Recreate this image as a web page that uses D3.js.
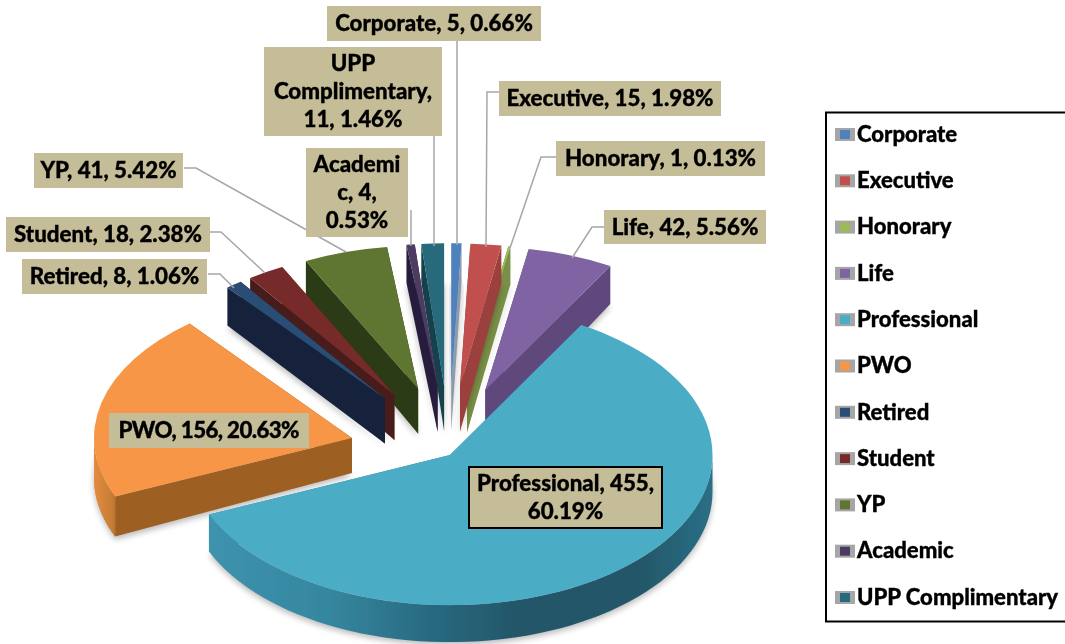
<!DOCTYPE html>
<html><head><meta charset="utf-8">
<script src="https://cdn.jsdelivr.net/npm/d3@7/dist/d3.min.js"></script>
<style>html,body{margin:0;padding:0;background:#fff;overflow:hidden}svg{display:block}text{font-family:Lato,sans-serif;font-weight:900;fill:#000;stroke:#000;stroke-width:.35px}</style>
</head><body><svg id="c" width="1065" height="644"></svg>
<script>
const categories=["Corporate","Executive","Honorary","Life","Professional","PWO","Retired","Student","YP","Academic","UPP Complimentary"];
const counts=[5,15,1,42,455,156,8,18,41,4,11];
const percents=["0.66%","1.98%","0.13%","5.56%","60.19%","20.63%","1.06%","2.38%","5.42%","0.53%","1.46%"];
const topColors=["#4f81bd","#c0504d","#9bbb59","#8064a2","#4bacc6","#f79646","#2c4d75","#772c2a","#5f7530","#4d3b62","#276a7c"];
const wallColors=["#8f9aa8","#9c3f3d","#7a8f47","#5f4a7c","#2f7f97","#9e5f22","#14243a","#4a1a1a","#2c3b17","#261c3c","#123f4c"];
const drawOrder=[3,2,1,0,10,9,8,7,6,5,4];

// label boxes: [left, top, right, bottom], text lines, leader polyline
const labelBoxes={
 Corporate:{box:[327,6,541,41],lines:["Corporate, 5, 0.66%"],lead:[[457,41],[457,245]]},
 "UPP Complimentary":{box:[264,47,442,136],lines:["UPP","Complimentary,","11, 1.46%"],lead:[[434,136],[434,246]]},
 Executive:{box:[499,81,721,116],lines:["Executive, 15, 1.98%"],lead:[[499,92],[487,92],[486,247]]},
 Honorary:{box:[556,141,765,176],lines:["Honorary, 1, 0.13%"],lead:[[556,157],[541,157],[510,248]]},
 Life:{box:[604,210,766,244],lines:["Life, 42, 5.56%"],lead:[[604,227],[592,227],[572,258]]},
 YP:{box:[34,153,183,188],lines:["YP, 41, 5.42%"],lead:[[184,168],[196,168],[346,252]]},
 Academic:{box:[306,148,408,237],lines:["Academi","c, 4,","0.53%"],lead:[[411,210],[411,246]]},
 Student:{box:[6,217,210,252],lines:["Student, 18, 2.38%"],lead:[[210,232],[221,232],[265,273]]},
 Retired:{box:[22,259,207,294],lines:["Retired, 8, 1.06%"],lead:[[208,274],[220,274],[234,288]]},
 PWO:{box:[109,413,309,448],lines:["PWO, 156, 20.63%"],lead:[],fit:181},
 Professional:{box:[469,467,662,528],lines:["Professional, 455,","60.19%"],lead:[],outline:true,fit:null}
};

const svg=d3.select("#c");
const defs=svg.append("defs");
function blur(id,s){const f=defs.append("filter").attr("id",id).attr("x","-20%").attr("y","-20%").attr("width","140%").attr("height","140%");f.append("feGaussianBlur").attr("stdDeviation",s);}
blur("soft",0.7);blur("shadow",3);blur("tblur",0.4);
function gradient(id,stops){
  const g=defs.append("linearGradient").attr("id",id).attr("gradientUnits","userSpaceOnUse").attr("x1",stops[0][0]).attr("x2",stops[stops.length-1][0]).attr("y1",0).attr("y2",0);
  const span=stops[stops.length-1][0]-stops[0][0];
  stops.forEach(s=>g.append("stop").attr("offset",(s[0]-stops[0][0])/span).attr("stop-color",s[1]));
}
gradient("profArc",[[205,"#3f93ae"],[330,"#35869f"],[430,"#286a80"],[520,"#235668"],[640,"#235768"],[712,"#2a6f86"]]);
gradient("pwoArc",[[92,"#e58e3e"],[112,"#c77d35"],[120,"#9e5f22"]]);
const arcFills={Professional:"url(#profArc)",PWO:"url(#pwoArc)"};

const cx=449,cy=447,rx=250,ry=143,depth=38,apexDepth=45,explode=0.425;
const arcs=d3.pie().sort(null).value(d=>d)(counts);
const mid=a=>(a.startAngle+a.endAngle)/2;
function geom(i){
  const a=arcs[i];
  if(categories[i]==="Professional")return {x:450,y:455,rx:rx*1.05,ry:ry*1.05,d:37,da:37};
  if(categories[i]==="PWO")return {x:352,y:438,rx:rx*1.032,ry:ry*1.032,d:40,da:35};
  return {x:cx+explode*rx*Math.sin(mid(a)),y:cy-explode*ry*Math.cos(mid(a)),rx,ry,d:depth,da:apexDepth};
}
const pt=(g,ang,r=1,z=0)=>[g.x+g.rx*r*Math.sin(ang),g.y-g.ry*r*Math.cos(ang)+z];
const line=d3.line();
const pieGroup=svg.append("g").attr("filter","url(#soft)");

drawOrder.forEach(i=>{
  const a=arcs[i],g=geom(i),c=pieGroup.append("g");
  const sh=[[g.x,g.y+g.da]].concat(d3.range(0,41).map(k=>pt(g,a.startAngle+(a.endAngle-a.startAngle)*k/40,1,g.d)));
  c.append("path").attr("d",line(sh)+"Z").attr("fill","#000").attr("opacity",0.28).attr("filter","url(#shadow)").attr("transform","translate(0,3)");
  [a.startAngle,a.endAngle].forEach(ang=>{
    const o=pt(g,ang);
    c.append("path").attr("d",line([[g.x,g.y],o,[o[0],o[1]+g.d],[g.x,g.y+g.da]])+"Z").attr("fill",wallColors[i]);
  });
  const lo=Math.max(a.startAngle,Math.PI/2),hi=Math.min(a.endAngle,Math.PI*1.5);
  if(hi>lo){
    const n=60,angs=d3.range(n+1).map(k=>lo+(hi-lo)*k/n);
    const outer=angs.map(t=>pt(g,t)).concat(angs.slice().reverse().map(t=>pt(g,t,1,g.d)));
    c.append("path").attr("d",line(outer)+"Z").attr("fill",arcFills[categories[i]]||wallColors[i]);
  }
  if(categories[i]==="PWO"){
    // curved flank continues round the far left of the ellipse
    const angs=d3.range(31).map(k=>a.startAngle+(Math.PI*1.5-a.startAngle)*k/30);
    const outer=angs.map(t=>pt(g,t)).concat(angs.slice().reverse().map(t=>pt(g,t,1,g.d)));
    c.append("path").attr("d",line(outer)+"Z").attr("fill","url(#pwoArc)");
  }
  c.append("path")
    .attr("d",d3.arc().innerRadius(0).outerRadius(g.rx)(a))
    .attr("transform",`translate(${g.x},${g.y}) scale(1,${g.ry/g.rx})`)
    .attr("fill",topColors[i]);
});

const leaders=svg.append("g");
categories.forEach(n=>{
  const L=labelBoxes[n];
  if(L.lead.length)leaders.append("path").attr("d",line(L.lead)).attr("fill","none").attr("stroke","#a6a6a6").attr("stroke-width",1.5);
});
const fs=22.3,lh=28;
categories.forEach(n=>{
  const L=labelBoxes[n],[x0,y0,x1,y1]=L.box;
  const g=svg.append("g");
  const r=g.append("rect").attr("x",x0).attr("y",y0).attr("width",x1-x0).attr("height",y1-y0).attr("fill","#c4bd97");
  if(L.outline)r.attr("stroke","#000").attr("stroke-width",2);
  const mx=(x0+x1)/2,my=(y0+y1)/2,st=my-(L.lines.length-1)*lh/2;
  L.lines.forEach((t,k)=>{
    const tx=g.append("text").attr("x",mx).attr("y",st+k*lh).attr("dy","0.35em").attr("text-anchor","middle").attr("font-size",fs).attr("filter","url(#tblur)").text(t);
    if(L.fit)tx.attr("textLength",L.fit);
  });
});
const lg=svg.append("g");
lg.append("rect").attr("x",826).attr("y",112.5).attr("width",260).attr("height",509).attr("fill","none").attr("stroke","#000").attr("stroke-width",2);
const ly=d3.scalePoint().domain(categories).range([134,597]);
categories.forEach((n,i)=>{
  const y=ly(n);
  lg.append("rect").attr("x",835).attr("y",y-6).attr("width",20).attr("height",13).attr("fill","#a6a6a6").attr("filter","url(#soft)");
  lg.append("rect").attr("x",840).attr("y",y-4).attr("width",10).attr("height",9).attr("fill",topColors[i]).attr("filter","url(#tblur)");
  lg.append("text").attr("x",857).attr("y",y).attr("dy","0.35em").attr("font-size",22.1).attr("filter","url(#tblur)").text(n);
});
</script></body></html>
